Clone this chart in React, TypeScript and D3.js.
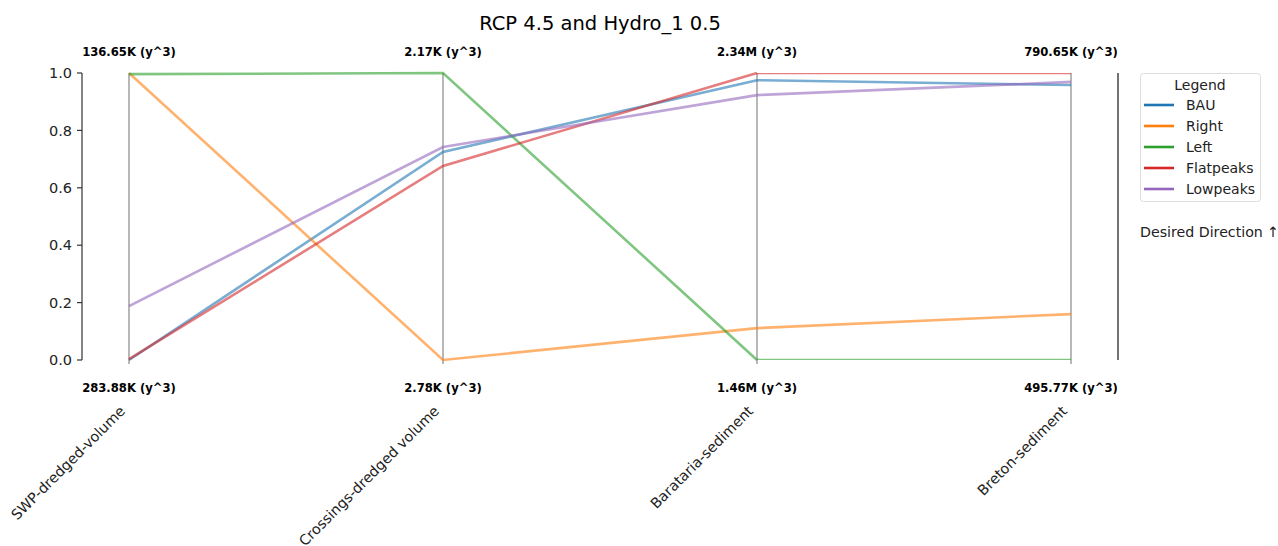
import * as d3 from "d3";

const axesNames = ["SWP-dredged-volume", "Crossings-dredged volume", "Barataria-sediment", "Breton-sediment"];
const topLabels = ["136.65K (y^3)", "2.17K (y^3)", "2.34M (y^3)", "790.65K (y^3)"];
const bottomLabels = ["283.88K (y^3)", "2.78K (y^3)", "1.46M (y^3)", "495.77K (y^3)"];

const seriesNames = ["BAU", "Right", "Left", "Flatpeaks", "Lowpeaks"];
const seriesColors = ["#1f77b4", "#ff7f0e", "#2ca02c", "#d62728", "#9467bd"];

const bau = [0.0, 0.725, 0.975, 0.958];
const right = [1.0, 0.0, 0.111, 0.16];
const left = [0.996, 1.0, 0.0, 0.0];
const flatpeaks = [0.003, 0.676, 1.0, 1.0];
const lowpeaks = [0.188, 0.742, 0.923, 0.969];

const seriesValues = [bau, right, left, flatpeaks, lowpeaks];
const yTicks = [0, 0.2, 0.4, 0.6, 0.8, 1.0];

const W = 1278;
const H = 546;
const font = "DejaVu Sans, sans-serif";

export default function App() {
  const x = d3.scalePoint<string>().domain(axesNames).range([129, 1071]);
  const y = d3.scaleLinear().domain([0, 1]).range([360, 73]);
  const line = d3
    .line<number>()
    .x((_d, i) => x(axesNames[i]) as number)
    .y((d) => y(d));

  const lastX0 = x(axesNames[2]) as number;
  const lastX1 = x(axesNames[3]) as number;

  return (
    <svg width={W} height={H} style={{ position: "absolute", left: 0, top: 0 }} fontFamily={font}>
      <defs>
        <clipPath id="lastClip">
          <rect x={lastX0} y={y(1)} width={lastX1 - lastX0} height={y(0) - y(1)} />
        </clipPath>
      </defs>
      <rect width={W} height={H} fill="#fff" />

      <text x={600} y={30} textAnchor="middle" fontSize={19.5} fill="#000">
        RCP 4.5 and Hydro_1 0.5
      </text>

      {/* y axis */}
      <line x1={82} x2={82} y1={y(1)} y2={y(0)} stroke="#333" strokeWidth={1.2} />
      {yTicks.map((t) => (
        <g key={t}>
          <line x1={77} x2={82} y1={y(t)} y2={y(t)} stroke="#333" strokeWidth={1.2} />
          <text x={72} y={y(t)} dy="0.36em" textAnchor="end" fontSize={14.5} fill="#222">
            {t.toFixed(1)}
          </text>
        </g>
      ))}

      {/* vertical axes */}
      {axesNames.map((a) => (
        <line key={a} x1={x(a)} x2={x(a)} y1={y(1)} y2={y(0) + 4} stroke="#888" strokeWidth={1.2} />
      ))}

      {/* series */}
      {seriesValues.map((vals, si) => (
        <g key={seriesNames[si]} stroke={seriesColors[si]} strokeOpacity={0.6} strokeWidth={2.6} fill="none">
          <path d={line(vals.slice(0, 3)) as string} />
          <path
            d={`M${lastX0},${y(vals[2])}L${lastX1},${y(vals[3])}`}
            clipPath="url(#lastClip)"
          />
        </g>
      ))}

      {/* axis value labels */}
      {axesNames.map((a, i) => (
        <g key={a} fontSize={11.6} fontWeight="bold" textAnchor="middle" fill="#000">
          <text x={x(a)} y={56}>{topLabels[i]}</text>
          <text x={x(a)} y={392}>{bottomLabels[i]}</text>
        </g>
      ))}

      {/* rotated axis names */}
      {axesNames.map((a) => (
        <text
          key={a}
          transform={`translate(${(x(a) as number) - 3},${412}) rotate(-45)`}
          textAnchor="end"
          fontSize={14.3}
          fill="#222"
        >
          {a}
        </text>
      ))}

      {/* desired direction bar */}
      <line x1={1118} x2={1118} y1={y(1)} y2={y(0)} stroke="#444" strokeWidth={1.5} />

      {/* legend */}
      <rect x={1140.5} y={73.5} width={120} height={128} rx={3} fill="#fff" stroke="#ddd" />
      <text x={1200} y={90} textAnchor="middle" fontSize={14} fill="#222">
        Legend
      </text>
      {seriesNames.map((n, i) => (
        <g key={n}>
          <line
            x1={1144}
            x2={1174}
            y1={105 + i * 21}
            y2={105 + i * 21}
            stroke={seriesColors[i]}
            strokeWidth={2.6}
          />
          <text x={1186} y={105 + i * 21} dy="0.36em" fontSize={14} fill="#222">
            {n}
          </text>
        </g>
      ))}
      <text x={1140} y={237} fontSize={14.2} fill="#222">
        Desired Direction ↑
      </text>
    </svg>
  );
}
